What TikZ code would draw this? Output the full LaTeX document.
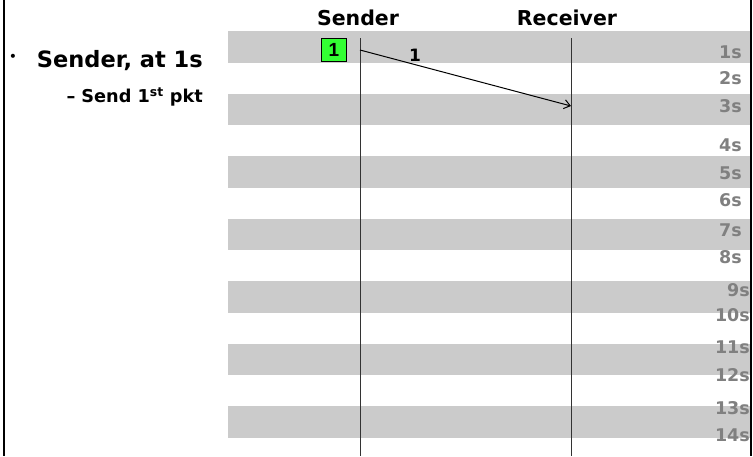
\documentclass[tikz,border=0pt]{standalone}
\usepackage{fontspec}
\setmainfont{DejaVu Sans}
\newfontfamily\boxfont{Liberation Sans}
\usetikzlibrary{arrows.meta,positioning}
\definecolor{BandGray}{HTML}{CBCBCB}
\definecolor{TickGray}{HTML}{808080}
\definecolor{PktGreen}{HTML}{33FF33}

\begin{document}
\begin{tikzpicture}[x=1pt, y=-1pt, every node/.style={font=\bfseries, inner sep=0pt}, band/.style={fill=BandGray, draw=none}, lifeline/.style={draw=black!80, line width=1pt}, tick/.style={anchor=east, text=TickGray, font=\bfseries\fontsize{17.5}{17.5}\selectfont}, pkt/.style={draw=black, fill=PktGreen, line width=0.8pt, minimum width=25pt, minimum height=23pt, font=\boxfont\bfseries\fontsize{19}{19}\selectfont}, msg/.style={-{Straight Barb[length=6pt,width=9pt]}, line width=1pt}]
\useasboundingbox (0,0) rectangle (753,456);
\foreach \i in {0,...,6}{\fill[band] (228,{31+62.5*\i}) rectangle (750,{62.5+62.5*\i});}
\draw[line width=2.5pt] (4,0) -- (4,456);
\draw[line width=2pt] (751,0) -- (751,456);
\node[font=\bfseries\fontsize{20.5}{20.5}\selectfont] (sndr) at (358,18) {Sender};
\node[font=\bfseries\fontsize{20.5}{20.5}\selectfont] (rcvr) at (567,18) {Receiver};
\coordinate (stop) at (360,38); \coordinate (sbot) at (360,456);
\coordinate (rtop) at (571,38); \coordinate (rbot) at (571,456);
\draw[lifeline] (stop) -- (sbot);
\draw[lifeline] (rtop) -- (rbot);
\node[font=\fontsize{14}{14}\selectfont] (dot) at (13,58) {•};
\node[anchor=east, font=\bfseries\fontsize{22.5}{22.5}\selectfont] (pt1) at (203,61) {Sender, at 1s};
\node[anchor=east, font=\bfseries\fontsize{17.7}{17.7}\selectfont] (pt2) at (203,97) {--\hspace{6pt}Send 1\textsuperscript{st} pkt};
\foreach \t/\yy/\xx in {1/52/742,2/78/742,3/106/742,4/145/742,5/173/742,6/200/742,7/230/742,8/257/742,9/290/750,10/315/750,11/347/750,12/375/750,13/408/750,14/435/750}{\node[tick] (t\t) at (\xx,\yy) {\t s};}
\node[pkt] (p1) at (334,49.5) {1};
\coordinate (s1) at (360,50); \coordinate (r3) at (571,106);
\draw[msg] (s1) -- (r3);
\node[font=\bfseries\fontsize{17}{17}\selectfont] (l1) at (415,55) {1};
\end{tikzpicture}
\end{document}
